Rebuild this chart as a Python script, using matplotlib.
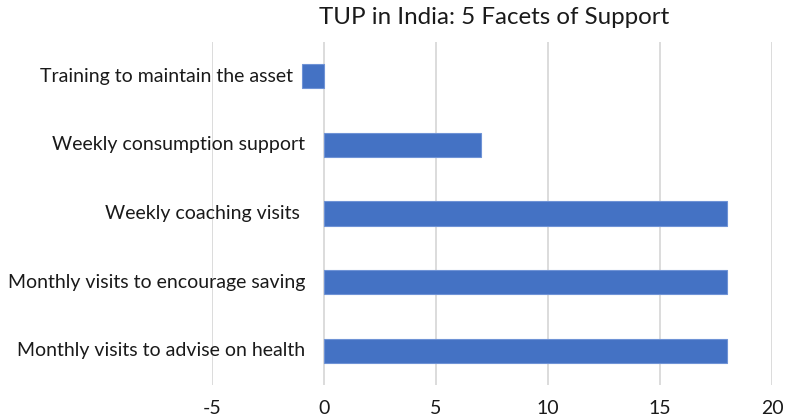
import matplotlib.pyplot as plt
import numpy as np

plt.rcParams['font.family'] = ['Lato', 'DejaVu Sans']

categories = [
    "Monthly visits to advise on health",
    "Monthly visits to encourage saving",
    "Weekly coaching visits ",
    "Weekly consumption support",
    "Training to maintain the asset",
]
values = [18, 18, 18, 7, -1]
xticks = [-5, 0, 5, 10, 15, 20]

W, H = 786, 419
fig = plt.figure(figsize=(W / 100, H / 100), dpi=100)
ax = fig.add_axes([212 / W, (H - 385) / H, (772 - 212) / W, (385 - 42) / H])

y = np.arange(len(categories))
ax.barh(y, values, height=0.35, color='#4472C4', edgecolor='#6f93d6', linewidth=0.8, zorder=3)

ax.set_xlim(-5, 20)
ax.set_ylim(-0.5, 4.5)
ax.set_xticks(xticks)
ax.set_xticklabels([str(t) for t in xticks], fontsize=14, color='#1a1a1a')
ax.tick_params(axis='x', length=0, pad=11)
ax.set_yticks([])
ax.grid(axis='x', color='#d9d9d9', linewidth=1.3, zorder=0)
for s in ax.spines.values():
    s.set_visible(False)

# category labels sit next to the zero axis, like in the original sheet
for yi, (lab, v) in enumerate(zip(categories, values)):
    x0 = min(0, v)
    ax.annotate(lab, xy=(x0, yi), xytext=(-13.5 if v >= 0 else -6.5, 0),
                textcoords='offset points', ha='right', va='center',
                fontsize=14, color='#1a1a1a')

fig.text(494 / W, 1 - 18 / H, "TUP in India: 5 Facets of Support",
         ha='center', va='center', fontsize=17.4, color='#1a1a1a')

fig.savefig('out.png', dpi=100)
